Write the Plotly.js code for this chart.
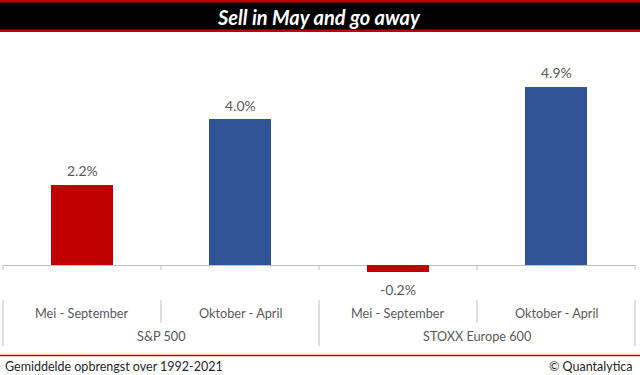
<!DOCTYPE html>
<html><head><meta charset="utf-8">
<script src="https://cdn.plot.ly/plotly-3.0.1.min.js"></script>
<style>html,body{margin:0;padding:0;background:#fff}#chart{width:640px;height:375px}</style>
</head><body><div id="chart"></div>
<script>
const titleText = "Sell in May and go away";
const groups = ["S&P 500", "S&P 500", "STOXX Europe 600", "STOXX Europe 600"];
const periods = ["Mei - September", "Oktober - April", "Mei - September", "Oktober - April"];
const returns = [2.2, 4.0, -0.2, 4.9];
const barColors = ["#C00000", "#2F5597", "#C00000", "#2F5597"];
const groupNames = ["S&P 500", "STOXX Europe 600"];
const footerLeft = "Gemiddelde opbrengst over 1992-2021";
const footerRight = "© Quantalytica";

const xs = periods.map((_, i) => i);
const font = "Lato, 'Open Sans', 'Noto Sans', sans-serif";
const gray = "#595959";
const lineGray = "#BFBFBF";
const PH = 240; // plot height in px
const py = px => (280 - px) / PH; // pixel row -> paper y

const trace = {
  type: "bar", x: xs, y: returns, width: 0.39,
  marker: {color: barColors, line: {width: 0}},
  hoverinfo: "skip"
};

const shapes = [];
// header
shapes.push({type:"rect", xref:"paper", yref:"paper", x0:-0.01, x1:1.01, y0:py(32), y1:py(0), fillcolor:"#C00000", line:{width:0}, layer:"above"});
shapes.push({type:"rect", xref:"paper", yref:"paper", x0:-0.01, x1:1.01, y0:py(29.5), y1:py(2.5), fillcolor:"#000000", line:{width:0}, layer:"above"});
// footer line
shapes.push({type:"line", xref:"paper", yref:"paper", x0:-0.01, x1:1.01, y0:py(355.5), y1:py(355.5), line:{color:"#C00000", width:1.5}});
// tick marks and separators
const n = periods.length;
for (let k = 0; k <= n; k++) {
  const xp = k / n;
  shapes.push({type:"line", xref:"paper", yref:"paper", x0:xp, x1:xp, y0:py(265), y1:py(270), line:{color:lineGray, width:1}});
  const isGroupEdge = (k === 0 || k === n || groups[k] !== groups[k-1]);
  shapes.push({type:"line", xref:"paper", yref:"paper", x0:xp, x1:xp, y0:py(300), y1:py(isGroupEdge ? 346 : 323), line:{color:lineGray, width:1}});
}

const annotations = [];
annotations.push({xref:"paper", yref:"paper", x:0.5, y:py(16.5), text:"<b><i>"+titleText+"</i></b>", showarrow:false, font:{family:font, size:20, color:"#FFFFFF"}, xanchor:"center", yanchor:"middle"});
returns.forEach((v, i) => {
  annotations.push({xref:"x", yref:"y", x:xs[i], y:v, yshift: v >= 0 ? 14 : -17, text:v.toFixed(1) + "%", showarrow:false, font:{family:font, size:14, color:gray}, xanchor:"center", yanchor:"middle"});
});
periods.forEach((p, i) => {
  annotations.push({xref:"x", yref:"paper", x:xs[i], y:py(313), text:p, showarrow:false, font:{family:font, size:12.7, color:gray}, xanchor:"center", yanchor:"middle"});
});
groupNames.forEach(g => {
  const idx = groups.map((v, i) => v === g ? i : -1).filter(i => i >= 0);
  const xc = (idx[0] + idx[idx.length-1]) / 2;
  annotations.push({xref:"x", yref:"paper", x:xc, y:py(336), text:g, showarrow:false, font:{family:font, size:12.7, color:gray}, xanchor:"center", yanchor:"middle"});
});
annotations.push({xref:"paper", yref:"paper", x:0, y:py(366), text:footerLeft, showarrow:false, font:{family:font, size:12.5, color:"#262626"}, xanchor:"left", yanchor:"middle"});
annotations.push({xref:"paper", yref:"paper", x:1, y:py(366), text:footerRight, showarrow:false, font:{family:font, size:12.5, color:"#262626"}, xanchor:"right", yanchor:"middle"});

const layout = {
  width: 640, height: 375,
  margin: {l: 3, r: 5, t: 40, b: 95},
  paper_bgcolor: "#FFFFFF", plot_bgcolor: "#FFFFFF",
  showlegend: false,
  xaxis: {range: [-0.5, 3.5], showticklabels: false, showgrid: false, zeroline: false, ticks: "", fixedrange: true},
  yaxis: {range: [-0.41, 6.18], showticklabels: false, showgrid: false, zeroline: true, zerolinecolor: lineGray, zerolinewidth: 1, ticks: "", fixedrange: true},
  shapes: shapes, annotations: annotations,
  bargap: 0
};
Plotly.newPlot("chart", [trace], layout, {displayModeBar: false, staticPlot: true});
</script></body></html>
